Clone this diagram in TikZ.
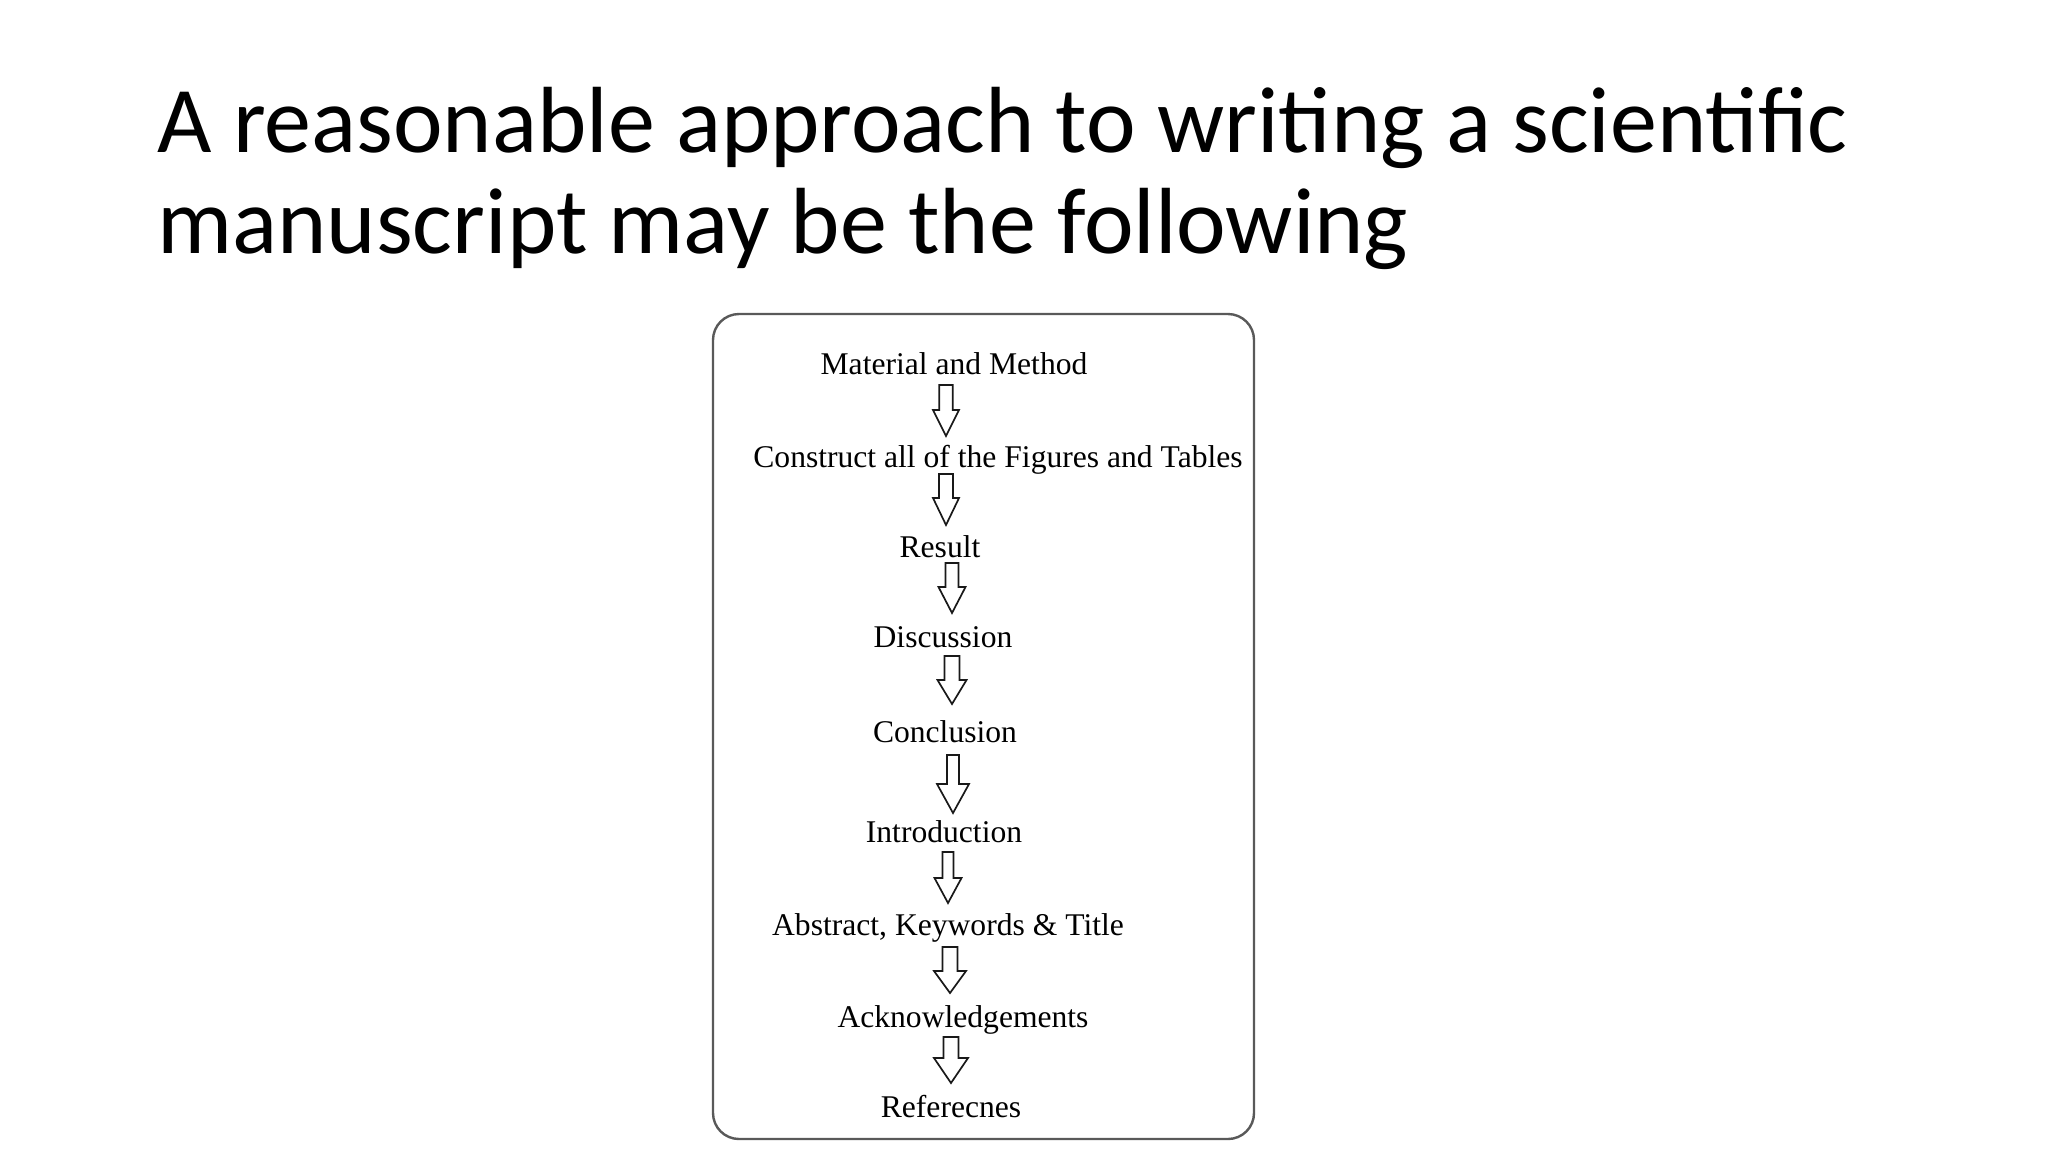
\documentclass[tikz,border=0pt]{standalone}
\usepackage{fontspec}
\setmainfont{Liberation Serif}
\newfontfamily\titlefont{Carlito}
\begin{document}
\begin{tikzpicture}[x=0.5pt,y=-0.5pt,
  titletext/.style={anchor=base west,inner sep=0pt,font=\titlefont\fontsize{47}{51}\selectfont},
  steptext/.style={anchor=base,inner sep=0pt,font=\fontsize{15.8}{19}\selectfont},
  framebox/.style={draw=black!65,line width=1.2pt,rounded corners=13pt},
  blockarrow/.style={draw=black!90,line width=0.85pt,fill=white,line join=miter}]
\useasboundingbox[fill=white] (0,0) rectangle (2048,1152);
\node[titletext] (t1) at (157,152) {A reasonable approach to writing a scientific};
\node[titletext] (t2) at (157,253) {manuscript may be the following};
\draw[framebox] (713,314) rectangle (1254,1139);
\node[steptext] (s1) at (954,374) {Material and Method};
\node[steptext] (s2) at (998,467) {Construct all of the Figures and Tables};
\node[steptext] (s3) at (940,557) {Result};
\node[steptext] (s4) at (943,647) {Discussion};
\node[steptext] (s5) at (945,742) {Conclusion};
\node[steptext] (s6) at (944,842) {Introduction};
\node[steptext] (s7) at (948,935) {Abstract, Keywords \& Title};
\node[steptext] (s8) at (963,1027) {Acknowledgements};
\node[steptext] (s9) at (951,1117) {Referecnes};
\foreach \cx/\ytop/\yhead/\ytip/\sw/\hw in {
  946/385/410/436/6.7/13,
  946/474/498/525/7/13,
  952/563/587/613/6.5/13.5,
  952/656/680/704/7.5/14.5,
  953/755/784/813/6/16,
  948/852/878/903/5.5/13.5,
  950/947/971/993/7.5/16,
  951/1037/1058/1083/7.5/17}{
  \draw[blockarrow] (\cx-\sw,\ytop) -- (\cx+\sw,\ytop) -- (\cx+\sw,\yhead) -- (\cx+\hw,\yhead)
    -- (\cx,\ytip) -- (\cx-\hw,\yhead) -- (\cx-\sw,\yhead) -- cycle;
}
\end{tikzpicture}
\end{document}
